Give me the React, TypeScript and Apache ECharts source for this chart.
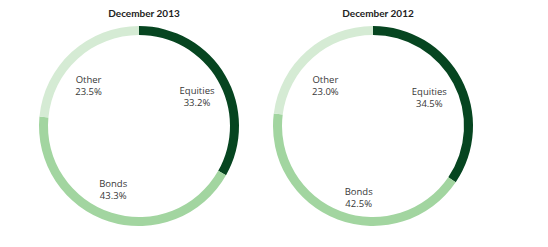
import React, { useEffect, useRef } from "react";
import * as echarts from "echarts";

const categories = ["Equities", "Bonds", "Other"];
const titles = ["December 2013", "December 2012"];
const values2013 = [33.2, 43.3, 23.5];
const values2012 = [34.5, 42.5, 23.0];
const colors = ["#064520", "#a2d5a0", "#d5ebd4"];

export default function App() {
  const ref = useRef<HTMLDivElement>(null);
  useEffect(() => {
    const chart = echarts.init(ref.current!, null, { renderer: "svg" });
    const centers = [
      [139, 126],
      [373, 126],
    ];
    // per-chart label nudges (style only)
    const nudges = [
      [[1, 4], [-6, 1], [-6, 8]],
      [[-2, 2], [9, 10], [-4, 9]],
    ];
    const sets = [values2013, values2012];
    const series: any[] = [];
    sets.forEach((vals, i) => {
      const data = categories.map((c, j) => ({
        name: c,
        value: vals[j],
        itemStyle: { color: colors[j] },
      }));
      series.push({
        type: "pie",
        center: centers[i],
        radius: [91, 100],
        startAngle: 90,
        clockwise: true,
        silent: true,
        label: { show: false },
        labelLine: { show: false },
        itemStyle: { borderWidth: 0 },
        data,
      });
      series.push({
        type: "pie",
        center: centers[i],
        radius: [0, 126],
        startAngle: 90,
        clockwise: true,
        silent: true,
        itemStyle: { color: "transparent", borderWidth: 0 },
        label: {
          show: true,
          position: "inside",
          formatter: (p: any) => `${p.name}\n${p.value.toFixed(1)}%`,
          color: "#383838",
          fontFamily: "Open Sans",
          fontSize: 9.5,
          lineHeight: 12,
          align: "center",
        },
        labelLine: { show: false },
        data: categories.map((c, j) => ({
          name: c,
          value: vals[j],
          label: { offset: nudges[i][j] },
        })),
      });
    });
    chart.setOption({
      animation: false,
      title: titles.map((t, i) => ({
        text: t,
        left: centers[i][0],
        top: 3,
        textAlign: "center",
        textStyle: {
          fontSize: 10,
          fontWeight: "bold",
          color: "#222",
          fontFamily: "Lato",
        },
      })),
      series,
    });
    return () => chart.dispose();
  }, []);
  return (
    <div
      ref={ref}
      style={{ position: "fixed", left: 0, top: 0, width: 548, height: 247, background: "#fff" }}
    />
  );
}
